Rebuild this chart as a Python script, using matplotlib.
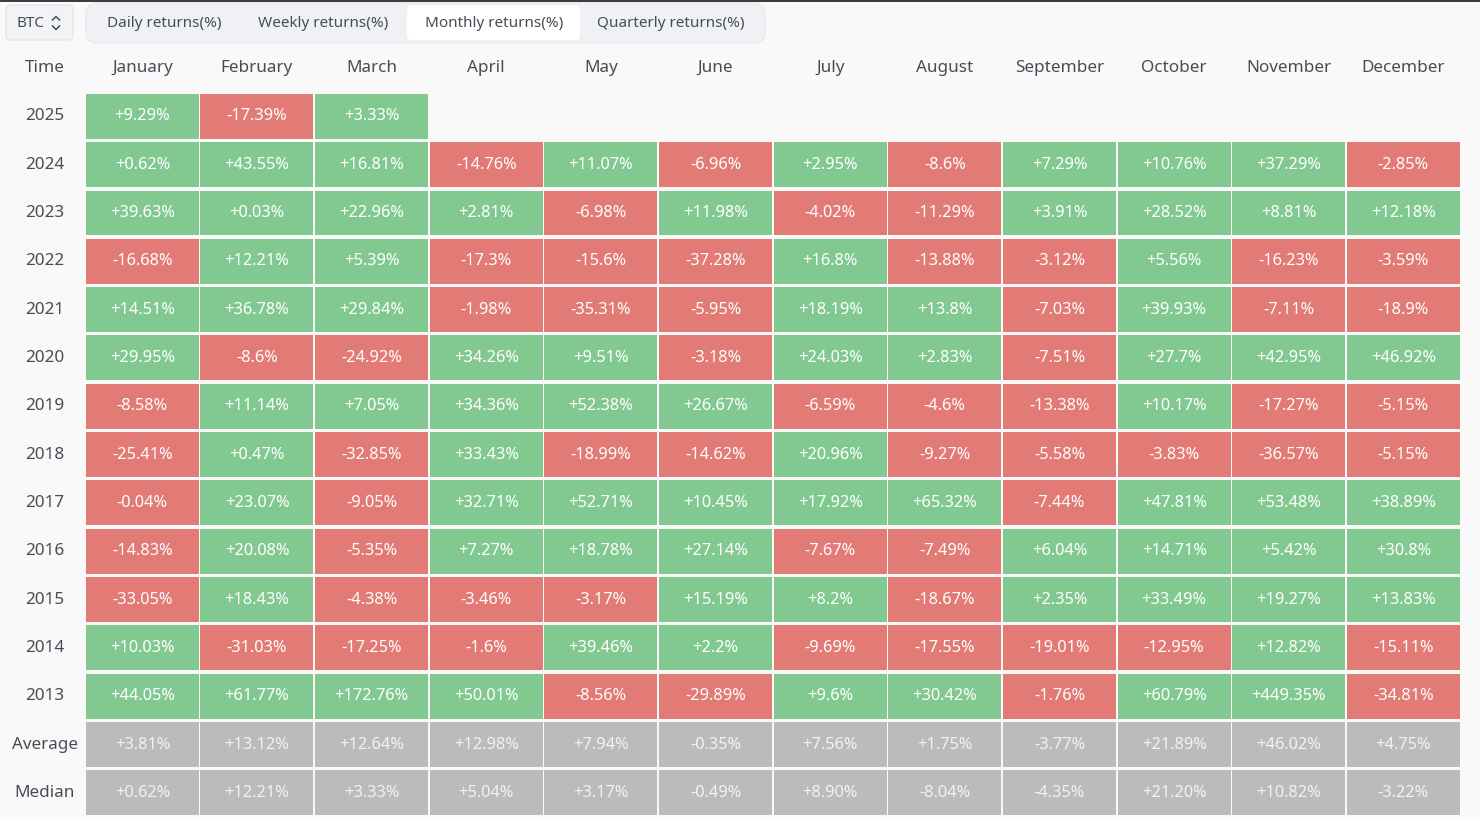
import matplotlib
matplotlib.use("Agg")
import matplotlib.pyplot as plt
from matplotlib.patches import FancyBboxPatch

months = ["January", "February", "March", "April", "May", "June", "July",
          "August", "September", "October", "November", "December"]
row_labels = ["2025", "2024", "2023", "2022", "2021", "2020", "2019", "2018",
              "2017", "2016", "2015", "2014", "2013", "Average", "Median"]
tabs = ["Daily returns(%)", "Weekly returns(%)", "Monthly returns(%)", "Quarterly returns(%)"]
tab_centers = [164, 323, 494, 671]
y2025 = ["+9.29%", "-17.39%", "+3.33%"]
y2024 = ["+0.62%", "+43.55%", "+16.81%", "-14.76%", "+11.07%", "-6.96%", "+2.95%", "-8.6%", "+7.29%", "+10.76%", "+37.29%", "-2.85%"]
y2023 = ["+39.63%", "+0.03%", "+22.96%", "+2.81%", "-6.98%", "+11.98%", "-4.02%", "-11.29%", "+3.91%", "+28.52%", "+8.81%", "+12.18%"]
y2022 = ["-16.68%", "+12.21%", "+5.39%", "-17.3%", "-15.6%", "-37.28%", "+16.8%", "-13.88%", "-3.12%", "+5.56%", "-16.23%", "-3.59%"]
y2021 = ["+14.51%", "+36.78%", "+29.84%", "-1.98%", "-35.31%", "-5.95%", "+18.19%", "+13.8%", "-7.03%", "+39.93%", "-7.11%", "-18.9%"]
y2020 = ["+29.95%", "-8.6%", "-24.92%", "+34.26%", "+9.51%", "-3.18%", "+24.03%", "+2.83%", "-7.51%", "+27.7%", "+42.95%", "+46.92%"]
y2019 = ["-8.58%", "+11.14%", "+7.05%", "+34.36%", "+52.38%", "+26.67%", "-6.59%", "-4.6%", "-13.38%", "+10.17%", "-17.27%", "-5.15%"]
y2018 = ["-25.41%", "+0.47%", "-32.85%", "+33.43%", "-18.99%", "-14.62%", "+20.96%", "-9.27%", "-5.58%", "-3.83%", "-36.57%", "-5.15%"]
y2017 = ["-0.04%", "+23.07%", "-9.05%", "+32.71%", "+52.71%", "+10.45%", "+17.92%", "+65.32%", "-7.44%", "+47.81%", "+53.48%", "+38.89%"]
y2016 = ["-14.83%", "+20.08%", "-5.35%", "+7.27%", "+18.78%", "+27.14%", "-7.67%", "-7.49%", "+6.04%", "+14.71%", "+5.42%", "+30.8%"]
y2015 = ["-33.05%", "+18.43%", "-4.38%", "-3.46%", "-3.17%", "+15.19%", "+8.2%", "-18.67%", "+2.35%", "+33.49%", "+19.27%", "+13.83%"]
y2014 = ["+10.03%", "-31.03%", "-17.25%", "-1.6%", "+39.46%", "+2.2%", "-9.69%", "-17.55%", "-19.01%", "-12.95%", "+12.82%", "-15.11%"]
y2013 = ["+44.05%", "+61.77%", "+172.76%", "+50.01%", "-8.56%", "-29.89%", "+9.6%", "+30.42%", "-1.76%", "+60.79%", "+449.35%", "-34.81%"]
average = ["+3.81%", "+13.12%", "+12.64%", "+12.98%", "+7.94%", "-0.35%", "+7.56%", "+1.75%", "-3.77%", "+21.89%", "+46.02%", "+4.75%"]
median = ["+0.62%", "+12.21%", "+3.33%", "+5.04%", "+3.17%", "-0.49%", "+8.90%", "-8.04%", "-4.35%", "+21.20%", "+10.82%", "-3.22%"]
rows = [y2025, y2024, y2023, y2022, y2021, y2020, y2019, y2018, y2017, y2016,
        y2015, y2014, y2013, average, median]

GREEN, RED, GREY = "#82c991", "#e27a75", "#bbbbbb"
BG, INK = "#f9f9f9", "#474d57"
W, H = 1480, 817
FONT = ["IBM Plex Sans", "Noto Sans", "DejaVu Sans"]
plt.rcParams["font.family"] = ["Noto Sans", "DejaVu Sans"]
HEAD = 12.3
CELL = 11.8

fig = plt.figure(figsize=(W / 100, H / 100), dpi=100, facecolor=BG)

# Chrome layer in pixel units
ui = fig.add_axes([0, 0, 1, 1])
ui.set_xlim(0, W)
ui.set_ylim(H, 0)
ui.axis("off")
ui.axhspan(0, 2, color="#3c3c3c", lw=0)
def rbox(x0, y0, x1, y1, r, fc, ec="none"):
    ui.add_patch(FancyBboxPatch((x0 + r, y0 + r), x1 - x0 - 2 * r, y1 - y0 - 2 * r,
                                boxstyle=f"round,pad={r},rounding_size={r}",
                                fc=fc, ec=ec, lw=1, mutation_aspect=1))
rbox(6, 5, 73, 40, 5, "#f2f3f6", "#e4e5e9")
rbox(86, 3, 765, 43, 11, "#f0f1f5", "#e9eaee")
rbox(407, 5, 580, 40, 5, "#ffffff")
ui.text(30, 23, "BTC", ha="center", va="center", fontsize=11, color=INK)
ui.plot([52.5, 56, 59.5], [20, 16.5, 20], color=INK, lw=1.1)
ui.plot([52.5, 56, 59.5], [26, 29.5, 26], color=INK, lw=1.1)
for t, c in zip(tabs, tab_centers):
    ui.text(c, 23, t, ha="center", va="center", fontsize=11, color=INK)

# Grid layer: one x unit per month, one y unit per row
pitch_x, pitch_y = 114.64, 48.32
left, top = 85 - 0.0, 92.2
right = left + 12 * pitch_x
bottom = top + 15 * pitch_y
ax = fig.add_axes([left / W, 1 - bottom / H, (right - left) / W, (bottom - top) / H])
ax.set_xlim(-0.5, 11.5)
ax.set_ylim(14.5, -0.5)
ax.axis("off")
ax.patch.set_alpha(0)

for r, vals in enumerate(rows):
    stat = row_labels[r] in ("Average", "Median")
    ax.text(-0.5 - 40 / pitch_x, r, row_labels[r], ha="center", va="center",
            fontsize=HEAD, color=INK, clip_on=False)
    for c, s in enumerate(vals):
        col = GREY if stat else (GREEN if float(s.rstrip("%")) >= 0 else RED)
        ax.bar(c, 0.93, width=0.985, bottom=r - 0.465, color=col, lw=0)
        ax.text(c, r, s, ha="center", va="center", fontsize=CELL,
                color="#f2f2f2" if stat else "#ffffff")
for c, m in enumerate(months):
    ax.text(c, -1, m, ha="center", va="center", fontsize=HEAD, color=INK, clip_on=False)
ax.text(-0.5 - 40 / pitch_x, -1, "Time", ha="center", va="center", fontsize=HEAD, color=INK, clip_on=False)

fig.savefig("out.png", dpi=100, facecolor=BG)
